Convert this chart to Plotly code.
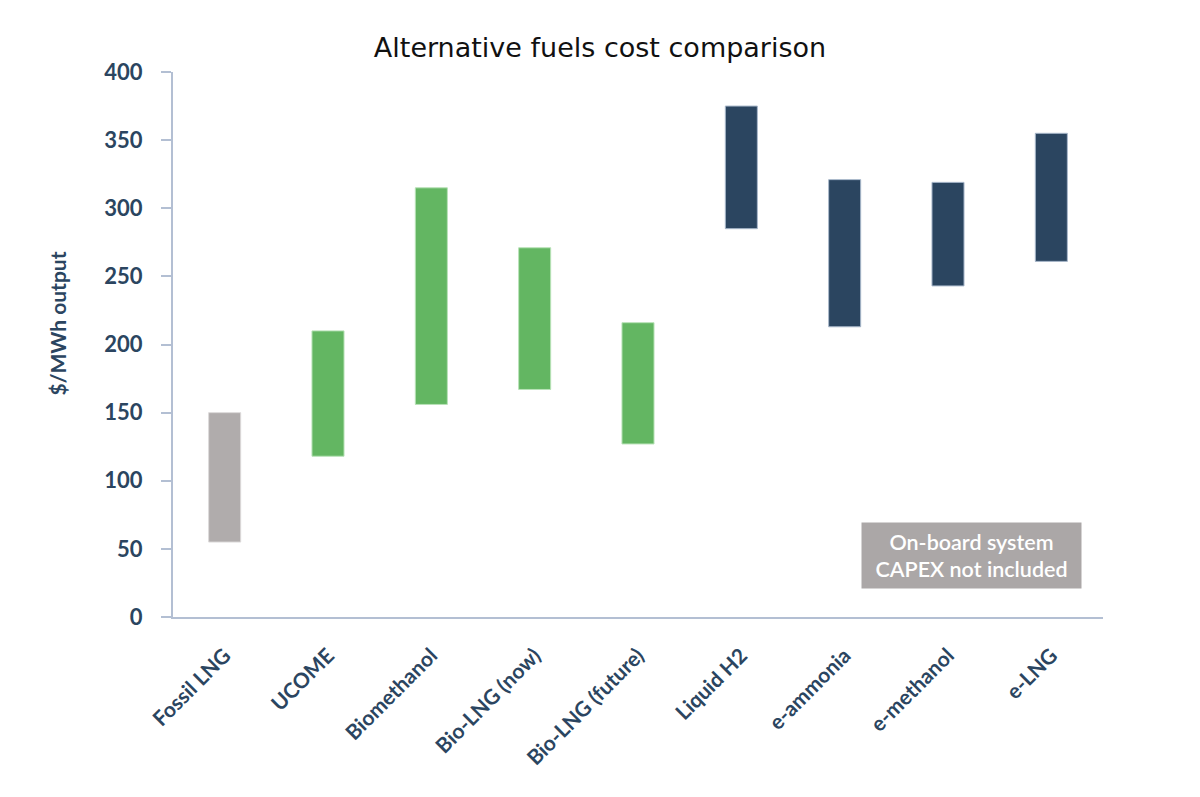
import plotly.graph_objects as go

categories = ["Fossil LNG", "UCOME", "Biomethanol", "Bio-LNG (now)", "Bio-LNG (future)",
              "Liquid H2", "e-ammonia", "e-methanol", "e-LNG"]
low_values = [55, 118, 156, 167, 127, 285, 213, 243, 261]
high_values = [150, 210, 315, 271, 216, 375, 321, 319, 355]
groups = ["fossil", "bio", "bio", "bio", "bio", "e", "e", "e", "e"]
y_ticks = [0, 50, 100, 150, 200, 250, 300, 350, 400]

fill_colors = {"fossil": "#b0acac", "bio": "#63b662", "e": "#2b4560"}
edge_colors = {"fossil": "#dcdada", "bio": "#b8e2b7", "e": "#a9b8cb"}

navy = "#2b4560"
axis_col = "#b3bfd3"

fig = go.Figure()
fig.add_trace(go.Bar(
    x=categories,
    y=[h - l for h, l in zip(high_values, low_values)],
    base=low_values,
    width=0.31,
    marker=dict(color=[fill_colors[g] for g in groups],
                line=dict(color=[edge_colors[g] for g in groups], width=1)),
    showlegend=False,
))

fig.update_layout(
    width=1200, height=797,
    margin=dict(l=165, r=105, t=64, b=188),
    plot_bgcolor="white", paper_bgcolor="white",
    title=dict(text="Alternative fuels cost comparison", x=(600 - 8) / 1200, xanchor="center",
               y=1 - 40 / 797, yanchor="middle", yref="container",
               font=dict(family="DejaVu Sans", size=27, color="#111111")),
    xaxis=dict(showline=True, linecolor=axis_col, linewidth=2, ticks="",
               tickangle=-45, showgrid=False, ticklabelstandoff=16,
               tickfont=dict(family="Lato", size=21, color=navy, weight=700)),
    yaxis=dict(range=[0, 400], tickvals=y_ticks, showline=True, linecolor=axis_col,
               linewidth=2, ticks="outside", ticklen=10, tickwidth=2, tickcolor=axis_col,
               showgrid=False, zeroline=False, ticklabelstandoff=14,
               tickfont=dict(family="Lato", size=22, color=navy, weight=700)),
    bargap=0.69,
)

fig.add_annotation(text="$/MWh output", textangle=-90, xref="paper", yref="paper",
                   x=(57 - 173) / 930, y=(617 - 323.5) / 545, xanchor="center", yanchor="middle",
                   showarrow=False, font=dict(family="Lato", size=21, color=navy, weight=700))

fig.add_annotation(text="On-board system<br>CAPEX not included", xref="paper", yref="paper",
                   x=(971 - 173) / 930, y=(617 - 555.5) / 545, xanchor="center", yanchor="middle",
                   showarrow=False, bgcolor="#aba7a7", width=211, height=57, borderpad=4,
                   font=dict(family="Lato", size=21.5, color="white", weight=600))

fig.write_html("out.html")
